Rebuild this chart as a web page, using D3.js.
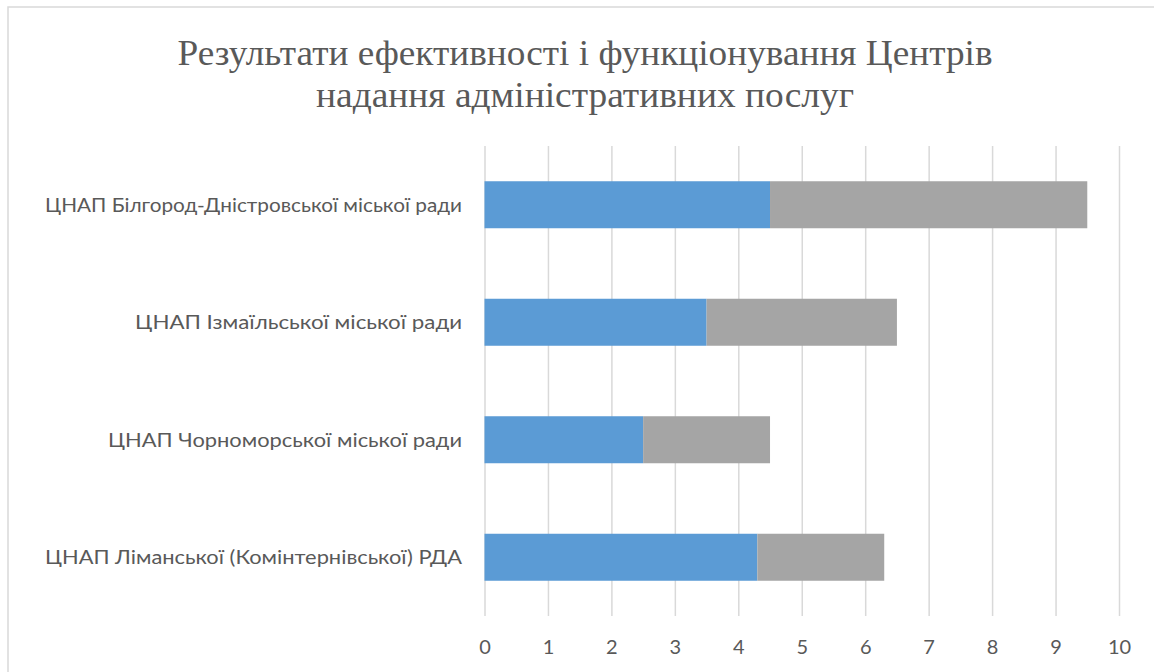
<!DOCTYPE html>
<html><head><meta charset="utf-8">
<script src="https://cdn.jsdelivr.net/npm/d3@7"></script>
<style>body{margin:0;background:#fff}svg{display:block}</style>
</head><body>
<svg id="c" width="1154" height="672"></svg>
<script>
const categories = [
  "ЦНАП Білгород-Дністровської міської ради",
  "ЦНАП Ізмаїльської міської ради",
  "ЦНАП Чорноморської міської ради",
  "ЦНАП Ліманської (Комінтернівської) РДА"
];
const series1 = [4.5, 3.5, 2.5, 4.3];
const series2 = [5, 3, 2, 2];
const tickValues = [0,1,2,3,4,5,6,7,8,9,10];
const titleLines = ["Результати ефективності і функціонування Центрів", "надання адміністративних послуг"];

const svg = d3.select("#c");
svg.append("rect").attr("x",8).attr("y",7).attr("width",1200).attr("height",700)
  .attr("fill","#fff").attr("stroke","#D9D9D9").attr("stroke-width",1.5);

const x = d3.scaleLinear().domain([0,10]).range([484.5,1119]);
const y = d3.scaleBand().domain(categories).range([146,616]).paddingInner(0.6).paddingOuter(0.3);

const titleW = [815, 538];
titleLines.forEach((l,i)=>{
  const tx = svg.append("text").attr("text-anchor","middle").attr("fill","#595959")
    .attr("x",585).attr("y",65+i*42)
    .style("font-family","'Liberation Serif','Times New Roman',serif").style("font-size","36px").text(l);
  tx.attr("textLength",titleW[i]).attr("lengthAdjust","spacingAndGlyphs");
});

// gridlines
const ax = d3.axisBottom(x).tickValues(tickValues).tickSize(-470).tickPadding(24).tickFormat(d3.format("d"));
const g = svg.append("g").attr("transform","translate(0,616)").call(ax);
g.select(".domain").remove();
g.selectAll(".tick line").attr("stroke","#D9D9D9").attr("stroke-width",1.5);
g.selectAll(".tick text").attr("fill","#595959").style("font-family","Lato,'Open Sans',sans-serif").style("font-size","20px");

const stack = categories.map((c,i)=>({c, a:series1[i], b:series2[i]}));
svg.append("g").selectAll("rect").data(stack).join("rect")
  .attr("x",d=>x(0)).attr("y",d=>y(d.c)).attr("height",y.bandwidth())
  .attr("width",d=>x(d.a)-x(0)).attr("fill","#5B9BD5");
svg.append("g").selectAll("rect").data(stack).join("rect")
  .attr("x",d=>x(d.a)).attr("y",d=>y(d.c)).attr("height",y.bandwidth())
  .attr("width",d=>x(d.a+d.b)-x(d.a)).attr("fill","#A5A5A5");

const labelW = [417, 327, 354, 417];
svg.append("g").selectAll("text").data(categories).join("text")
  .attr("x",462).attr("y",d=>y(d)+y.bandwidth()/2).attr("dy","0.35em")
  .attr("text-anchor","end").attr("fill","#595959")
  .style("font-family","Lato,'Open Sans',sans-serif").style("font-size","19.5px").text(d=>d)
  .attr("textLength",(d,i)=>labelW[i]).attr("lengthAdjust","spacingAndGlyphs");
</script>
</body></html>
